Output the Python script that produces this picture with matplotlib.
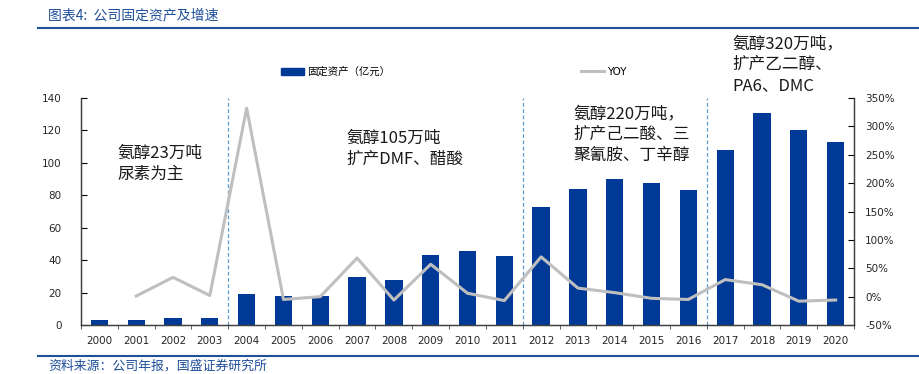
import matplotlib
matplotlib.use("Agg")
import matplotlib.pyplot as plt
from matplotlib.ticker import FuncFormatter, FixedLocator
from matplotlib.lines import Line2D
from matplotlib.patches import Patch
import numpy as np

plt.rcParams['font.family'] = ['Noto Sans CJK SC', 'DejaVu Sans']

years = [str(y) for y in range(2000, 2021)]
assets = [3.1, 3.2, 4.3, 4.4, 19.0, 18.0, 18.0, 29.6, 27.8, 43.0, 45.6,
          42.6, 72.8, 84.0, 90.0, 87.6, 83.3, 108.0, 130.8, 120.0, 113.0]
yoy_years = years[1:]
yoy = [1, 34, 2, 332, -5, 0, 68, -6, 57, 6, -7, 70, 15, 7, -3, -5, 30, 21, -8, -6]

phase_breaks = [3.5, 11.5, 16.5]
notes = [
    (117, 145, "氨醇23万吨\n尿素为主"),
    (346, 130, "氨醇105万吨\n扩产DMF、醋酸"),
    (573, 105, "氨醇220万吨，\n扩产己二酸、三\n聚氰胺、丁辛醇"),
    (732, 35, "氨醇320万吨，\n扩产乙二醇、\nPA6、DMC"),
]

W, H = 919, 374
fig = plt.figure(figsize=(W / 100, H / 100), dpi=100)
ax = fig.add_axes([81 / W, 1 - 325 / H, (854 - 81) / W, (325 - 98) / H])

bar_color = "#003A96"
line_color = "#BFBFBF"
x = np.arange(len(years))
num_font = dict(family="DejaVu Sans", size=7.5)

ax.bar(x, assets, width=0.47, color=bar_color, zorder=2)
ax.set_xlim(-0.5, len(years) - 0.5)
ax.set_ylim(0, 140)
ax.set_yticks(np.arange(0, 141, 20))
ax.set_xticks(x)
ax.set_xticklabels(years)
ax.xaxis.set_minor_locator(FixedLocator(np.arange(-0.5, len(years), 1.0)))
ax.tick_params(axis="x", which="major", length=0, pad=8)
ax.tick_params(axis="x", which="minor", length=3, direction="out", color="#404040")
ax.tick_params(axis="y", direction="in", length=4, pad=14)
for lab in ax.get_xticklabels() + ax.get_yticklabels():
    lab.set_fontfamily(num_font["family"])
    lab.set_fontsize(num_font["size"])
    lab.set_color("#262626")
ax.spines["top"].set_visible(False)
for s in ["left", "bottom", "right"]:
    ax.spines[s].set_color("#404040")
    ax.spines[s].set_linewidth(1.0)

ax2 = ax.twinx()
xi = [years.index(y) for y in yoy_years]
ax2.plot(xi, yoy, color=line_color, lw=2.2, zorder=3)
ax2.set_ylim(-50, 350)
ax2.set_yticks(np.arange(-50, 351, 50))
ax2.yaxis.set_major_formatter(FuncFormatter(lambda v, p: f"{v:.0f}%"))
ax2.tick_params(axis="y", direction="in", length=4, pad=8)
for lab in ax2.get_yticklabels():
    lab.set_fontfamily(num_font["family"])
    lab.set_fontsize(num_font["size"])
    lab.set_color("#262626")
ax2.spines["top"].set_visible(False)
for s in ["left", "bottom", "right"]:
    ax2.spines[s].set_color("#404040")

for b in phase_breaks:
    ax.axvline(b, color="#5B9BD5", lw=0.9, ls=(0, (3, 2)), zorder=1)

for px, py, txt in notes:
    fig.text(px / W, 1 - py / H, txt, fontsize=12, va="top", ha="left",
             linespacing=1.3, color="#1a1a1a")

handles = [Patch(color=bar_color), Line2D([], [], color=line_color, lw=2.2)]
fig.legend([handles[0]], ["固定资产（亿元）"], loc="center left",
           bbox_to_anchor=(272 / W, 1 - 72 / H), frameon=False, fontsize=7.5,
           handlelength=2.2, handleheight=0.8, handletextpad=0.3)
fig.legend([handles[1]], ["YOY"], loc="center left",
           bbox_to_anchor=(572 / W, 1 - 72 / H), frameon=False,
           prop=dict(family="DejaVu Sans", size=7.5),
           handlelength=2.2, handletextpad=0.3)

# title and source
fig.text(48 / W, 1 - 15 / H, "图表4:  公司固定资产及增速", fontsize=10,
         color="#1F4E9A", style="italic", va="center", ha="left")
fig.add_artist(Line2D([38 / W, 1.0], [1 - 28 / H] * 2, color="#1F4E9A", lw=1.5))
fig.add_artist(Line2D([38 / W, 1.0], [1 - 356 / H] * 2, color="#1F4E9A", lw=1.5))
fig.text(48 / W, 1 - 366 / H, "资料来源：公司年报，国盛证券研究所", fontsize=9.3,
         color="#1F4E9A", style="italic", va="center", ha="left")

fig.savefig("out.png", dpi=100)
